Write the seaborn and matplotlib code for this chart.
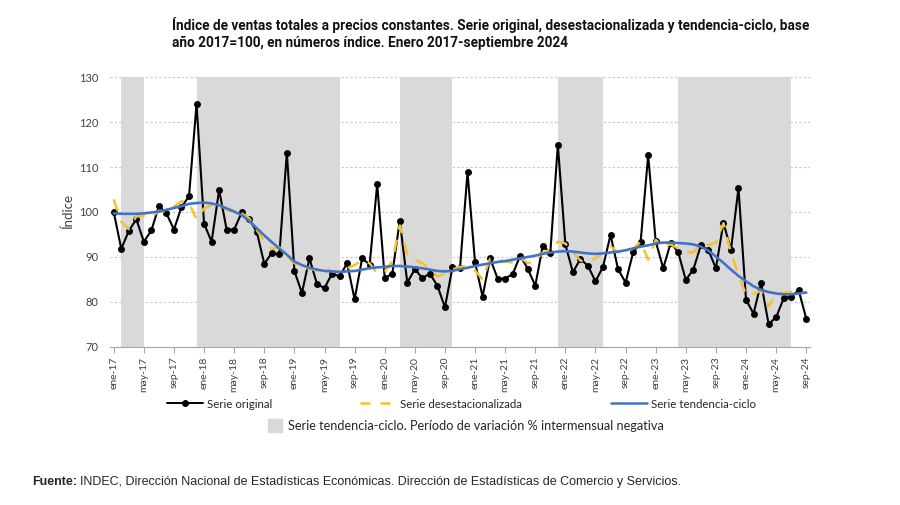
import pandas as pd
import numpy as np
import matplotlib
matplotlib.use("Agg")
import matplotlib.pyplot as plt
import seaborn as sns
from matplotlib.lines import Line2D
from matplotlib.patches import Patch

# month labels, ene-17 .. sep-24
meses = ["ene", "feb", "mar", "abr", "may", "jun", "jul", "ago", "sep", "oct", "nov", "dic"]
periodos = [f"{m}-{a}" for a in range(17, 25) for m in meses][:93]

# Serie original
original = [100.0, 91.8, 95.8, 98.4, 93.4, 95.9, 101.3, 99.7, 96.1, 101.1, 103.5, 124.0,
            97.4, 93.4, 104.9, 96.1, 96.1, 99.9, 98.4, 95.6, 88.5, 90.9, 90.6, 113.2,
            86.9, 82.0, 89.7, 84.0, 83.1, 86.3, 85.7, 88.6, 80.6, 89.7, 88.3, 106.2,
            85.4, 86.2, 98.1, 84.3, 87.3, 85.3, 86.3, 83.6, 78.8, 87.7, 87.5, 108.8,
            88.8, 81.2, 89.7, 85.2, 85.2, 86.2, 90.3, 87.4, 83.6, 92.5, 90.9, 114.9,
            92.8, 86.6, 89.6, 88.0, 84.6, 87.8, 94.9, 87.3, 84.3, 91.0, 93.4, 112.6,
            93.5, 87.5, 93.2, 91.0, 84.9, 87.2, 92.6, 91.5, 87.5, 97.6, 91.6, 105.3,
            80.5, 77.4, 84.3, 75.1, 76.6, 80.8, 81.2, 82.6, 76.3]

# Serie desestacionalizada
desest = [102.8, 97.8, 96.2, 99.0, 99.2, 98.8, 100.3, 100.0, 101.2, 102.4, 102.0, 98.4,
          100.8, 101.5, 101.8, 100.5, 99.8, 99.7, 98.6, 96.0, 93.5, 91.8, 92.2, 90.5,
          88.6, 87.8, 87.4, 87.0, 87.7, 86.8, 86.5, 87.5, 88.2, 89.3, 88.6, 86.3,
          86.8, 89.0, 97.0, 90.5, 89.3, 88.6, 87.5, 85.6, 86.4, 87.2, 87.8, 88.0,
          87.0, 85.0, 89.6, 89.4, 89.0, 88.8, 90.0, 88.6, 89.2, 91.0, 91.6, 93.4,
          93.0, 91.0, 89.2, 89.0, 89.7, 91.0, 92.4, 91.0, 91.3, 91.8, 93.4, 89.4,
          93.8, 92.5, 92.8, 91.9, 91.2, 91.0, 92.8, 92.6, 93.2, 97.5, 91.0, 86.0,
          81.6, 81.8, 82.5, 79.0, 81.8, 82.0, 82.2, 82.5, 82.0]

# Serie tendencia-ciclo
tendencia = [99.7, 99.6, 99.6, 99.6, 99.7, 99.9, 100.1, 100.5, 100.9, 101.3, 101.8, 102.0,
             102.1, 101.9, 101.5, 100.8, 100.1, 99.3, 98.0, 96.4, 94.8, 93.3, 91.9, 90.5,
             89.0, 88.2, 87.6, 87.2, 86.9, 86.8, 86.7, 86.8, 86.9, 87.2, 87.5, 87.7,
             87.8, 88.0, 88.0, 87.9, 87.7, 87.5, 87.2, 86.9, 86.8, 86.9, 87.3, 87.6,
             88.0, 88.3, 88.6, 88.9, 89.1, 89.4, 89.7, 90.0, 90.3, 90.7, 91.0, 91.2,
             91.3, 91.2, 91.0, 90.8, 90.7, 90.8, 91.0, 91.2, 91.5, 91.9, 92.3, 92.6,
             93.0, 93.2, 93.2, 93.1, 93.0, 92.8, 92.3, 91.4, 90.1, 88.7, 87.2, 85.8,
             84.6, 83.5, 82.7, 82.2, 81.9, 81.7, 81.7, 81.9, 82.1]

# periodos de variacion intermensual negativa de la tendencia-ciclo
periodos_neg = [("feb-17", "may-17"), ("dic-17", "jul-19"), ("mar-20", "oct-20"),
                ("dic-21", "jun-22"), ("abr-23", "jul-24")]

titulo1 = "Índice de ventas totales a precios constantes. Serie original, desestacionalizada y tendencia-ciclo, base"
titulo2 = "año 2017=100, en números índice. Enero 2017-septiembre 2024"

df = pd.DataFrame({"periodo": periodos, "original": original,
                   "desest": desest, "tendencia": tendencia})
df["t"] = range(len(df))

sns.set_style("white")
plt.rcParams["font.family"] = ["Lato", "DejaVu Sans"]

fig = plt.figure(figsize=(9, 5.05), dpi=100)
ax = fig.add_axes([0.1222, 0.3129, 0.7778, 0.5346])
r = fig.canvas.get_renderer()

# pick the bold font whose width at 11pt is nearest the reference title width (634 px)
best = None
for fam, st in [("Liberation Sans Narrow", "normal"), ("Noto Sans", "semi-condensed"),
                ("Noto Sans", "condensed"), ("Noto Sans", "extra-condensed"),
                ("Roboto", "condensed"), ("DejaVu Sans", "condensed"),
                ("Open Sans", "condensed"), ("Roboto", "normal")]:
    t = fig.text(0, 0, titulo1, family=[fam, "DejaVu Sans"], fontstretch=st,
                 fontweight="bold", fontsize=11)
    w = t.get_window_extent(renderer=r).width
    t.remove()
    if best is None or abs(w - 634) < abs(best[2] - 634):
        best = (fam, st, w)
title_size = min(11.5, 11 * 634 / best[2])

for ini, fin in periodos_neg:
    ax.axvspan(periodos.index(ini), periodos.index(fin), color="#D9D9D9", lw=0, zorder=1)

sns.lineplot(data=df, x="t", y="original", ax=ax, color="black", lw=1.5,
             marker="o", markersize=5, markeredgewidth=0, zorder=3)
sns.lineplot(data=df, x="t", y="desest", ax=ax, color="#F2C230", lw=1.8, zorder=4)
ax.lines[-1].set_dashes([5, 4])
sns.lineplot(data=df, x="t", y="tendencia", ax=ax, color="#4472C4", lw=1.9, zorder=5)

ax.set_xlim(-0.5, 92.5)
ax.set_ylim(70, 130)
ax.set_yticks(range(70, 131, 10))
tick_pos = list(range(0, 93, 4))
ax.set_xticks(tick_pos)
ax.set_xticklabels([periodos[i] for i in tick_pos], rotation=90, fontsize=7.5, color="#404040")
ax.tick_params(axis="y", labelsize=8, colors="#404040", length=0, pad=8)
ax.tick_params(axis="x", length=4, width=0.8, color="#A6A6A6", bottom=True, pad=3)
ax.set_axisbelow(True)
ax.yaxis.grid(True, linestyle=(0, (2, 2)), color="#C8C8C8", lw=0.8)
ax.xaxis.grid(False)
for s in ["top", "right", "left"]:
    ax.spines[s].set_visible(False)
ax.spines["bottom"].set_color("#A6A6A6")
ax.set_xlabel("")
ax.set_ylabel("Índice", fontsize=9.5, color="#404040", labelpad=4)

# titulo
fig.text(172 / 900, 1 - 33.5 / 505, titulo1 + "\n" + titulo2,
         family=[best[0], "DejaVu Sans"], fontstretch=best[1], fontweight="bold",
         fontsize=title_size, va="center", ha="left", linespacing=1.2, color="#111111")

# leyenda
items = [
    (Line2D([], [], color="black", lw=1.4, marker="o", markersize=4), "Serie original", 167),
    (Line2D([], [], color="#F2C230", lw=1.8, dashes=[4, 4]), "Serie desestacionalizada", 360),
    (Line2D([], [], color="#4472C4", lw=1.8), "Serie tendencia-ciclo", 611),
]
for h, lab, xpix in items:
    fig.legend([h], [lab], loc="center left", bbox_to_anchor=(xpix / 900, 1 - 404 / 505),
               frameon=False, fontsize=8.3, handlelength=3.1, handletextpad=0.35,
               borderpad=0, borderaxespad=0)
fig.legend([Patch(color="#D9D9D9")], ["Serie tendencia-ciclo. Período de variación % intermensual negativa"],
           loc="center left", bbox_to_anchor=(268 / 900, 1 - 425.5 / 505), frameon=False,
           fontsize=9.2, handlelength=1.1, handleheight=1.1, handletextpad=0.47,
           borderpad=0, borderaxespad=0)

# fuente
ft = fig.text(32 / 900, 1 - 482 / 505, "Fuente:", family=["Liberation Sans", "DejaVu Sans"],
              fontweight="bold", fontsize=9, va="center", ha="left")
bb = ft.get_window_extent(renderer=r)
fig.text((bb.x1 + 3) / 900, 1 - 482 / 505,
         "INDEC, Dirección Nacional de Estadísticas Económicas. Dirección de Estadísticas de Comercio y Servicios.",
         family=["Liberation Sans", "DejaVu Sans"], fontsize=9, va="center", ha="left")

fig.savefig("out.png", dpi=100)
